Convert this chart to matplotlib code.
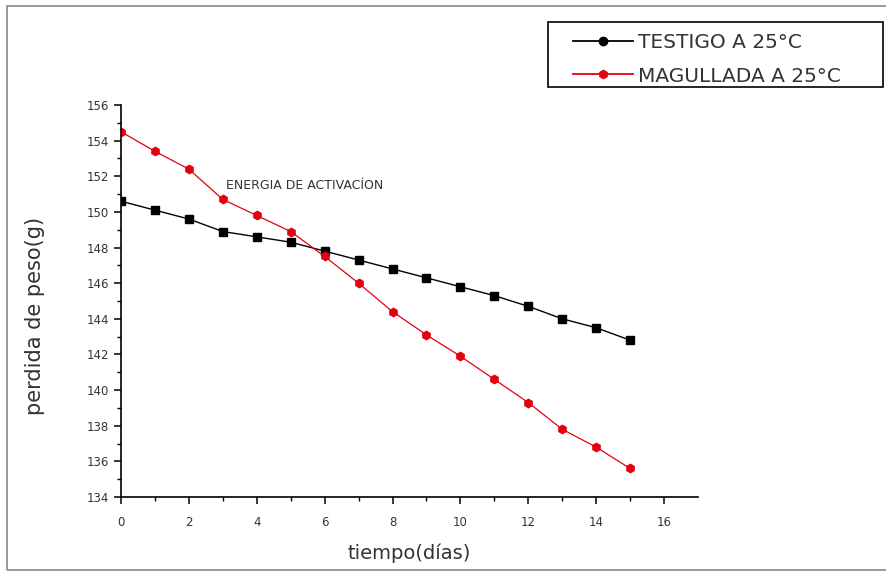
import matplotlib
matplotlib.use('Agg')
import matplotlib.pyplot as plt
from matplotlib.patches import Rectangle
from matplotlib.lines import Line2D

plt.rcParams['font.family'] = ['DejaVu Sans']

dias = [0, 1, 2, 3, 4, 5, 6, 7, 8, 9, 10, 11, 12, 13, 14, 15]
testigo = [150.6, 150.1, 149.6, 148.9, 148.6, 148.3, 147.8, 147.3,
           146.8, 146.3, 145.8, 145.3, 144.7, 144.0, 143.5, 142.8]
magullada = [154.5, 153.4, 152.4, 150.7, 149.8, 148.9, 147.5, 146.0,
             144.4, 143.1, 141.9, 140.6, 139.3, 137.8, 136.8, 135.6]

txt = '#333333'
rojo = '#e3000f'

fig = plt.figure(figsize=(8.87, 5.72), dpi=100)
ax = fig.add_axes([121/887, 1-497/572, (698-121)/887, (497-105)/572])

ax.plot(dias, testigo, color='black', lw=1.0, marker='s', ms=5.5)
ax.plot(dias, magullada, color=rojo, lw=0.9, marker='h', ms=6)

ax.set_xlim(0, 17)
ax.set_ylim(134, 156)
ax.set_xticks(range(0, 17, 2))
ax.set_xticks(range(1, 17, 2), minor=True)
ax.set_yticks(range(134, 157, 2))
ax.set_yticks(range(135, 156, 2), minor=True)
for s in ['top', 'right']:
    ax.spines[s].set_visible(False)
for s in ['left', 'bottom']:
    ax.spines[s].set_linewidth(1.2)
ax.tick_params(which='major', direction='out', length=5, width=1.1, labelsize=8.5, labelcolor=txt)
ax.tick_params(which='minor', direction='out', length=3, width=1.0)
ax.tick_params(axis='x', which='major', pad=9)

ax.set_xlabel('tiempo(días)', fontsize=14, color=txt, labelpad=10)
ax.set_ylabel('perdida de peso(g)', fontsize=15, color=txt)
ax.yaxis.set_label_coords(-0.132, 0.462)

ax.text(3.1, 151.3, 'ENERGIA DE ACTIVACÍON', fontsize=9, color=txt)

# legend (frame drawn separately)
h1 = Line2D([], [], color='black', lw=1.3, marker='o', ms=6)
h2 = Line2D([], [], color=rojo, lw=1.3, marker='h', ms=6)
leg = fig.legend([h1, h2], ['TESTIGO A 25°C', 'MAGULLADA A 25°C'],
                 loc='upper left', bbox_to_anchor=(573/887, 1-33/572),
                 fontsize=14.5, frameon=False, handlelength=3.0, handletextpad=0.25,
                 borderpad=0, borderaxespad=0, labelspacing=0.72, labelcolor=txt)
fig.patches.append(Rectangle((548/887, 1-87/572), 335/887, 65/572, transform=fig.transFigure,
                             fill=False, edgecolor='black', lw=1.2))

# outer frame
fig.patches.append(Rectangle((7/887, 2/572), 1.1, 1-8/572, transform=fig.transFigure,
                             fill=False, edgecolor='#888888', lw=1.2))

fig.savefig('out.png', dpi=100)
